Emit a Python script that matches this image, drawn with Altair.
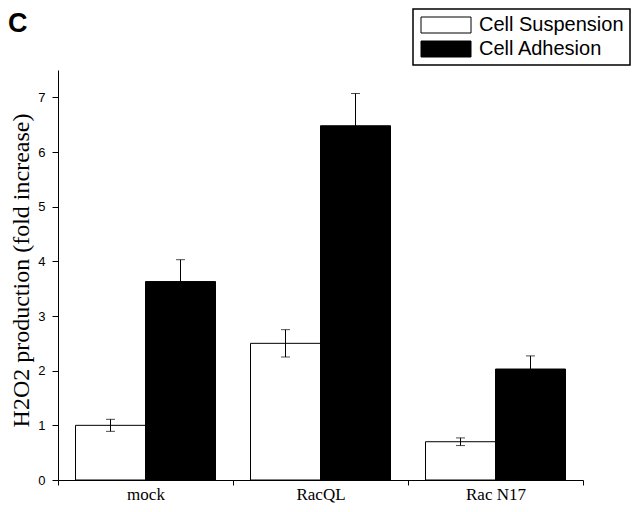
import altair as alt
import pandas as pd

categories = ["mock", "RacQL", "Rac N17"]
series = ["Cell Suspension", "Cell Adhesion"]
suspension = [1.0, 2.5, 0.7]
suspension_err = [0.11, 0.25, 0.07]
adhesion = [3.63, 6.48, 2.03]
adhesion_err = [0.4, 0.59, 0.24]
y_ticks = [0, 0.5, 1, 1.5, 2, 2.5, 3, 3.5, 4, 4.5, 5, 5.5, 6, 6.5, 7, 7.5]

rows = []
for i, c in enumerate(categories):
    for s, vals, errs in [(series[0], suspension, suspension_err), (series[1], adhesion, adhesion_err)]:
        rows.append({"category": c, "series": s, "value": vals[i],
                     "lo": vals[i] - errs[i], "hi": vals[i] + errs[i]})
df = pd.DataFrame(rows)

x_enc = alt.X("category:N", sort=categories,
              scale=alt.Scale(paddingInner=0, paddingOuter=0),
              axis=alt.Axis(title=None, labelAngle=0, tickBand="extent", tickSize=5,
                            labelFont="Liberation Serif", labelFontSize=17, labelColor="black",
                            labelPadding=1, domainColor="black", tickColor="black",
                            domainWidth=1, tickWidth=1))
xoff = alt.XOffset("series:N", sort=series,
                   scale=alt.Scale(paddingInner=0, paddingOuter=0.25))
y_scale = alt.Scale(domain=[0, 7.5], nice=False, zero=True)

bars = alt.Chart(df).mark_bar(stroke="black", strokeWidth=1).encode(
    x=x_enc,
    xOffset=xoff,
    y=alt.Y("value:Q", scale=y_scale,
            axis=alt.Axis(title="H2O2 production (fold increase)", values=y_ticks,
                          labelExpr="datum.value % 1 == 0 ? format(datum.value, 'd') : ''",
                          grid=False, tickSize=6, labelFont="Liberation Sans", labelFontSize=13,
                          labelColor="black", labelPadding=7, domainColor="black",
                          tickColor="black", titleFont="Liberation Serif", titleFontSize=24,
                          titleFontWeight="normal", titleColor="black", titleX=-37, titleY=200,
                          titleAngle=270, titleBaseline="middle", titleAlign="center")),
    color=alt.Color("series:N", sort=series,
                    scale=alt.Scale(domain=series, range=["white", "black"]),
                    legend=alt.Legend(title=None, orient="none", legendX=355, legendY=-61,
                                      symbolType="M-1,-1H5.25V1H-1Z", symbolSize=256,
                                      symbolStrokeColor="black", symbolStrokeWidth=1,
                                      symbolOpacity=1,
                                      labelFont="Liberation Sans", labelFontSize=20,
                                      labelColor="black", labelOffset=40,
                                      strokeColor="black", padding=6,
                                      fillColor="white")),
)

err = alt.Chart(df).mark_rule(color="black", strokeWidth=1).encode(
    x=alt.X("category:N", sort=categories),
    xOffset=xoff,
    y=alt.Y("lo:Q", scale=y_scale),
    y2="hi:Q",
)
cap_lo = alt.Chart(df).mark_tick(color="black", thickness=1, size=9, orient="horizontal").encode(
    x=alt.X("category:N", sort=categories),
    xOffset=xoff,
    y=alt.Y("lo:Q", scale=y_scale),
)
cap_hi = alt.Chart(df).mark_tick(color="black", thickness=1, size=9, orient="horizontal").encode(
    x=alt.X("category:N", sort=categories),
    xOffset=xoff,
    y=alt.Y("hi:Q", scale=y_scale),
)

panel_label = alt.Chart(pd.DataFrame({"t": ["C"]})).mark_text(
    font="Liberation Sans", fontSize=27, fontWeight="bold", align="left",
    baseline="alphabetic", color="black").encode(
    text="t:N", x=alt.value(-50), y=alt.value(-38))

chart = alt.layer(bars, err, cap_lo, cap_hi, panel_label).properties(
    width=525, height=410,
    autosize=alt.AutoSizeParams(type="none"),
    padding={"left": 50, "top": 62, "right": 49, "bottom": 24},
).configure_view(stroke=None).configure_axis(grid=False).configure_legend(
    strokeWidth=1.5, rowPadding=4)

chart.save("out.html", embed_options={"renderer": "svg", "actions": False})
